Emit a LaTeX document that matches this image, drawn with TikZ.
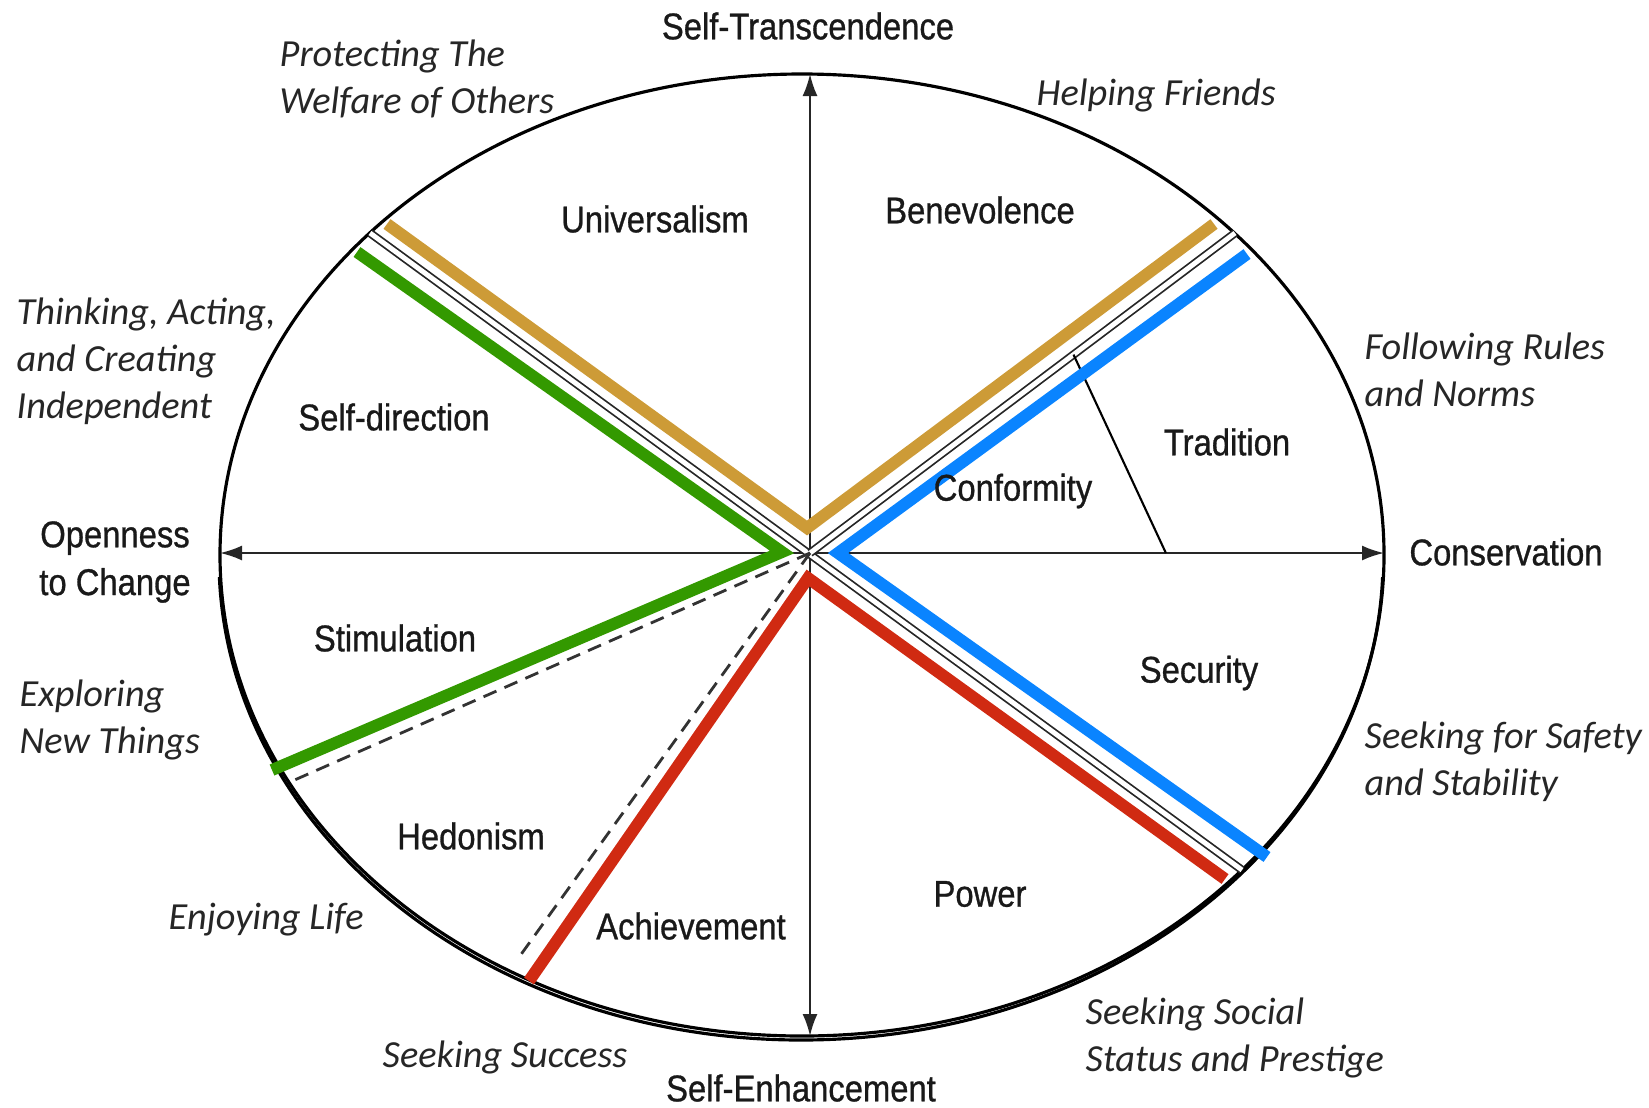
\documentclass[tikz,border=0pt]{standalone}
\usepackage{fontspec}
\setmainfont{Liberation Sans}
\newfontfamily\valuefont[FakeStretch=0.88, FakeBold=0.8]{Liberation Sans}
\newfontfamily\goalfont{Carlito}
\usetikzlibrary{arrows.meta, positioning, calc}

\definecolor{goldline}{RGB}{205,155,55}
\definecolor{greenline}{RGB}{51,153,0}
\definecolor{redline}{RGB}{208,42,18}
\definecolor{blueline}{RGB}{10,132,255}

\begin{document}
\begin{tikzpicture}[
        value/.style={font=\valuefont\fontsize{10.6}{12.4}\selectfont, align=center, inner sep=0pt, text=black!90},
        goal/.style={font=\goalfont\itshape\fontsize{10.9}{13.4}\selectfont, align=left, anchor=west, inner sep=0pt, text=black!85},
        axis/.style={line width=0.6pt, draw=black!85, -{Latex[length=2.2mm, width=1.5mm]}},
        border/.style={double, double distance=1.4pt, line width=0.5pt, draw=black!85},
        split/.style={dashed, dash pattern=on 4pt off 2.5pt, line width=0.8pt, black!80},
        band/.style={line width=3.4pt}
    ]
        \useasboundingbox (0,0) rectangle (16.49,11.07);

        % circle of values, with a heavier lower rim
        \draw[line width=0.9pt] (8.02,5.52) ellipse [x radius=5.82, y radius=4.81];
        \begin{scope}
            \clip (0,0) rectangle (16.49,5.3);
            \draw[line width=0.9pt] (8.01,5.48) ellipse [x radius=5.82, y radius=4.81];
        \end{scope}

        % define points
        \coordinate (O) at (8.10,5.54);
        \coordinate (axN) at (8.10,10.33);
        \coordinate (axS) at (8.10,0.71);
        \coordinate (axW) at (2.20,5.54);
        \coordinate (axE) at (13.84,5.54);
        \coordinate (ul) at (3.70,8.74);
        \coordinate (ur) at (12.35,8.74);
        \coordinate (lr) at (12.42,2.37);
        \coordinate (dl1) at (2.90,3.25);
        \coordinate (dl2) at (5.17,1.47);
        \coordinate (tdtop) at ($(O)!0.62!(ur)$);
        \coordinate (tdbot) at ($(O)!0.62!(axE)$);

        % axes
        \draw[axis] (O) -- (axN);
        \draw[axis] (O) -- (axS);
        \draw[axis] (O) -- (axW);
        \draw[axis] (O) -- (axE);

        % sector borders
        \draw[border] (ul) -- (lr);
        \draw[border] (O) -- (ur);
        \draw[split] (O) -- (dl1);
        \draw[split] (O) -- (dl2);
        \draw[line width=0.6pt] (tdtop) -- (tdbot);

        % coloured bands
        \coordinate (g1) at (3.87,8.83);
        \coordinate (gv) at (8.07,5.79);
        \coordinate (g2) at (12.14,8.83);
        \coordinate (n1) at (3.57,8.55);
        \coordinate (nv) at (7.82,5.55);
        \coordinate (n2) at (2.72,3.37);
        \coordinate (r1) at (5.29,1.26);
        \coordinate (rv) at (8.08,5.29);
        \coordinate (r2) at (12.25,2.28);
        \coordinate (b1) at (12.47,8.53);
        \coordinate (bv) at (8.38,5.54);
        \coordinate (b2) at (12.67,2.50);
        \draw[band, goldline] (g1) -- (gv) -- (g2);
        \draw[band, greenline] (n1) -- (nv) -- (n2);
        \draw[band, redline] (r1) -- (rv) -- (r2);
        \draw[band, blueline] (b1) -- (bv) -- (b2);

        % higher order values
        \node[value] (trans) at (8.08,10.81) {Self-Transcendence};
        \node[value] (enh) at (8.01,0.19) {Self-Enhancement};
        \node[value, font=\valuefont\fontsize{10.6}{13.6}\selectfont] (open) at (1.15,5.45) {Openness\\to Change};
        \node[value] (cons) at (15.06,5.55) {Conservation};

        % values
        \node[value] (univ) at (6.55,8.88) {Universalism};
        \node[value] (bene) at (9.80,8.97) {Benevolence};
        \node[value] (selfdir) at (3.94,6.90) {Self-direction};
        \node[value] (trad) at (12.27,6.65) {Tradition};
        \node[value] (conf) at (10.13,6.16) {Conformity};
        \node[value] (stim) at (3.95,4.69) {Stimulation};
        \node[value] (secu) at (11.99,4.34) {Security};
        \node[value] (hedo) at (4.71,2.71) {Hedonism};
        \node[value] (achi) at (6.91,1.81) {Achievement};
        \node[value] (power) at (9.80,2.13) {Power};

        % goals
        \node[goal] (welfare) at (2.79,10.28) {Protecting The\\Welfare of Others};
        \node[goal] (friends) at (10.36,10.12) {Helping Friends};
        \node[goal] (independent) at (0.16,7.46) {Thinking, Acting,\\and Creating\\Independent};
        \node[goal] (rules) at (13.64,7.37) {Following Rules\\and Norms};
        \node[goal] (exploring) at (0.19,3.87) {Exploring\\New Things};
        \node[goal] (enjoying) at (1.68,1.87) {Enjoying Life};
        \node[goal] (success) at (3.82,0.50) {Seeking Success};
        \node[goal] (safety) at (13.64,3.45) {Seeking for Safety\\and Stability};
        \node[goal] (status) at (10.85,0.69) {Seeking Social\\Status and Prestige};
    \end{tikzpicture}
\end{document}
